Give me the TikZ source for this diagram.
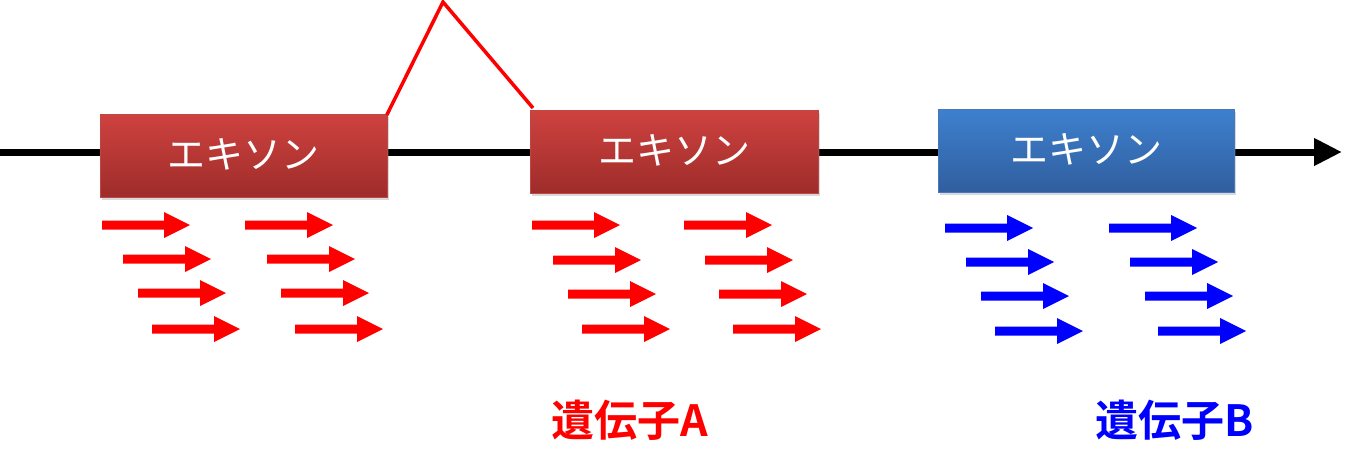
\documentclass[tikz,border=0pt]{standalone}
\usepackage{fontspec}
\newfontfamily\jp{Noto Sans CJK JP}
\newfontfamily\jpb{Noto Sans CJK JP Bold}
\usetikzlibrary{shadows,arrows.meta}
\definecolor{rtop}{RGB}{206,66,63}
\definecolor{rbot}{RGB}{158,44,42}
\definecolor{rline}{RGB}{190,70,68}
\definecolor{btop}{RGB}{62,128,206}
\definecolor{bbot}{RGB}{48,94,158}
\definecolor{bline}{RGB}{70,120,190}
\definecolor{pblue}{RGB}{0,0,255}
\tikzset{
  exon/.style={rectangle, anchor=north west, inner sep=0pt, line width=0.8pt,
    drop shadow={opacity=0.3, shadow xshift=2pt, shadow yshift=-3pt}},
  redexon/.style={exon, draw=rline, top color=rtop, bottom color=rbot},
  blueexon/.style={exon, draw=bline, top color=btop, bottom color=bbot},
  exontext/.style={font=\jp\fontsize{38}{42}\selectfont, text=white, inner sep=0pt},
  blk/.pic={\fill (0,-4.5) -- (62,-4.5) -- (62,-13) -- (88,0) -- (62,13) -- (62,4.5) -- (0,4.5) -- cycle;},
  genelabel/.style={font=\jpb\fontsize{43}{47}\selectfont, inner sep=0pt}
}
\begin{document}
\begin{tikzpicture}[x=1pt,y=-1pt]
\useasboundingbox (0,0) rectangle (1368,472);
% backbone
\coordinate (s) at (0,152);
\coordinate (e) at (1342,152);
\draw[line width=7pt, -{Triangle[length=28pt,width=26pt]}] (s) -- (e);
% exons
\node[redexon, minimum width=287pt, minimum height=83pt] (ex1) at (100,114) {};
\node[exontext] (t1) at ([yshift=2pt]ex1.center) {エキソン};
\node[redexon, minimum width=288pt, minimum height=83pt] (ex2) at (530,110) {};
\node[exontext] (t2) at ([yshift=2pt]ex2.center) {エキソン};
\node[blueexon, minimum width=296pt, minimum height=83pt] (ex3) at (938,109) {};
\node[exontext] (t3) at ([yshift=2pt]ex3.center) {エキソン};
% splice
\coordinate (peak) at (443,2);
\draw[red, line width=3.5pt, line join=miter] ([xshift=-1pt,yshift=-1pt]ex1.north east) -- (peak) -- ([xshift=3pt,yshift=2pt]ex2.north west);
% arrows group 1
\pic[red] at (102,225) {blk};
\pic[red] at (123,259) {blk};
\pic[red] at (138,293) {blk};
\pic[red] at (152,329) {blk};
\pic[red] at (245,225) {blk};
\pic[red] at (267,259) {blk};
\pic[red] at (281,293) {blk};
\pic[red] at (295,329) {blk};
% group 2
\pic[red] at (532,225) {blk};
\pic[red] at (553,260) {blk};
\pic[red] at (568,294) {blk};
\pic[red] at (582,329) {blk};
\pic[red] at (684,225) {blk};
\pic[red] at (705,260) {blk};
\pic[red] at (719,294) {blk};
\pic[red] at (733,329) {blk};
% group 3
\pic[pblue] at (945,228) {blk};
\pic[pblue] at (966,262) {blk};
\pic[pblue] at (981,296) {blk};
\pic[pblue] at (995,331) {blk};
\pic[pblue] at (1109,228) {blk};
\pic[pblue] at (1130,262) {blk};
\pic[pblue] at (1145,296) {blk};
\pic[pblue] at (1158,331) {blk};
% labels
\node[genelabel, text=red] (ga) at (630,420) {遺伝子A};
\node[genelabel, text=pblue] (gb) at (1175,420) {遺伝子B};
\end{tikzpicture}
\end{document}
